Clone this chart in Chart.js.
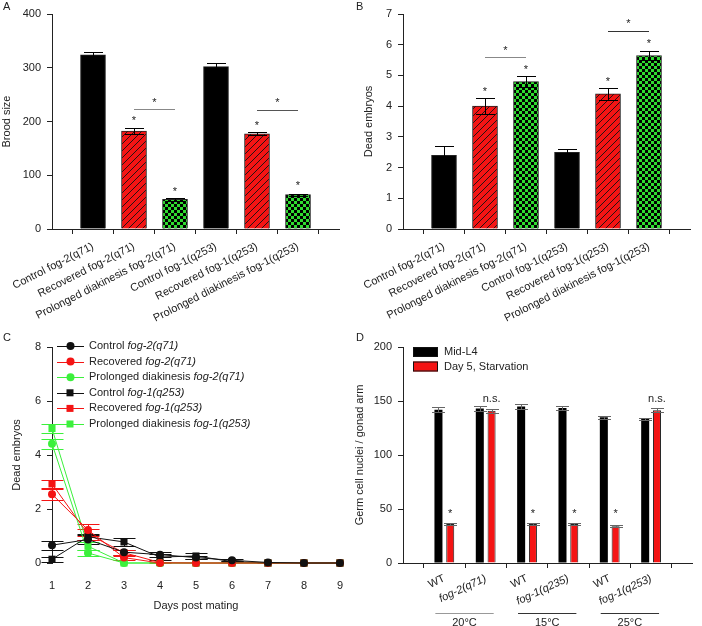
<!DOCTYPE html>
<html>
<head>
<meta charset="utf-8">
<script src="https://cdn.jsdelivr.net/npm/chart.js@4/dist/chart.umd.min.js"></script>
<style>
  body { margin: 0; background: #fff; width: 702px; height: 626px; position: relative; overflow: hidden; font-family: Arial, "Liberation Sans", sans-serif; }
  canvas { position: absolute; }
  .tag { position: absolute; font-size: 11px; color: #222; }
</style>
</head>
<body>
<canvas id="chartA" width="351" height="330" style="left:0;top:0"></canvas>
<canvas id="chartB" width="351" height="330" style="left:351px;top:0"></canvas>
<canvas id="chartC" width="351" height="296" style="left:0;top:330px"></canvas>
<canvas id="chartD" width="351" height="296" style="left:351px;top:330px"></canvas>
<div class="tag" style="left:3px;top:0">A</div>
<div class="tag" style="left:356px;top:0">B</div>
<div class="tag" style="left:3px;top:331px">C</div>
<div class="tag" style="left:356px;top:331px">D</div>
<script>
// ---- data ----
var strainLabels = ['Control fog-2(q71)', 'Recovered fog-2(q71)', 'Prolonged diakinesis fog-2(q71)',
                    'Control fog-1(q253)', 'Recovered fog-1(q253)', 'Prolonged diakinesis fog-1(q253)'];
var broodSize = [324, 182, 55, 302, 177, 64];
var broodErr  = [6, 5, 2, 6, 3, 2];
var deadEmbryos = [2.4, 4.0, 4.8, 2.5, 4.4, 5.65];
var deadErr     = [0.3, 0.25, 0.18, 0.1, 0.2, 0.14];

var days = [1, 2, 3, 4, 5, 6, 7, 8, 9];
var ctrlFog2 = [0.66, 0.87, 0.40, 0.31, 0.20, 0.10, 0.02, 0, 0];
var recFog2  = [2.55, 1.22, 0.20, 0, 0, 0, 0, 0, 0];
var proFog2  = [4.42, 0.37, 0, 0, 0, 0, 0, 0, 0];
var ctrlFog1 = [0.14, 0.97, 0.78, 0.22, 0.26, 0.05, 0, 0, 0];
var recFog1  = [2.93, 1.07, 0.38, 0.02, 0, 0, 0, 0, 0];
var proFog1  = [4.98, 0.62, 0, 0, 0, 0, 0, 0, 0];
var ctrlFog2Err = [0.16, 0.15, 0.10, 0.08, 0.06, 0.03, 0.02, 0, 0];
var recFog2Err  = [0.20, 0.22, 0.10, 0, 0, 0, 0, 0, 0];
var proFog2Err  = [0.18, 0.12, 0, 0, 0, 0, 0, 0, 0];
var ctrlFog1Err = [0.10, 0.12, 0.15, 0.10, 0.12, 0.03, 0, 0, 0];
var recFog1Err  = [0.15, 0.20, 0.12, 0.02, 0, 0, 0, 0, 0];
var proFog1Err  = [0.15, 0.15, 0, 0, 0, 0, 0, 0, 0];

var germLabels = ['WT', 'fog-2(q71)', 'WT', 'fog-1(q235)', 'WT', 'fog-1(q253)'];
var midL4       = [142, 143, 145, 143.5, 135, 133.5];
var midL4Err    = [2, 2, 2.5, 2, 1.5, 1];
var starved     = [36, 141, 36, 36, 34, 141.5];
var starvedErr  = [0.8, 1.8, 0.8, 0.8, 0.8, 1.8];
var tempGroups  = [['20°C', 0, 1], ['15°C', 2, 3], ['25°C', 4, 5]];

var FONT = 'Arial, "Liberation Sans", sans-serif';
Chart.defaults.font.family = FONT;
Chart.defaults.font.size = 11;
Chart.defaults.color = '#222';

var RED = '#f41414', GREEN = '#2fdc2f', LGREEN = '#3cf03c';

// pad with an empty slot each side so the categories sit like the original axis
function pad(a) { return [null].concat(a, [null]); }

function hatch() {
  var c = document.createElement('canvas');
  c.width = c.height = 7;
  var g = c.getContext('2d');
  g.fillStyle = RED; g.fillRect(0, 0, 7, 7);
  g.strokeStyle = '#111'; g.lineWidth = 0.9;
  g.beginPath();
  g.moveTo(-1, 8); g.lineTo(8, -1);
  g.moveTo(-1, 1); g.lineTo(1, -1);
  g.moveTo(6, 8); g.lineTo(8, 6);
  g.stroke();
  return g.createPattern(c, 'repeat');
}
function checker() {
  var c = document.createElement('canvas');
  c.width = c.height = 6;
  var g = c.getContext('2d');
  g.fillStyle = GREEN; g.fillRect(0, 0, 6, 6);
  g.fillStyle = '#000'; g.fillRect(0, 0, 3, 3); g.fillRect(3, 3, 3, 3);
  return g.createPattern(c, 'repeat');
}
var barFills = pad(['#000', hatch(), checker(), '#000', hatch(), checker()]);

var errorBars = {
  id: 'errorBars',
  draw: function (chart, opts) {
    var ctx = chart.ctx;
    chart.data.datasets.forEach(function (ds, di) {
      if (!ds.errors) return;
      var meta = chart.getDatasetMeta(di);
      var ys = chart.scales[meta.yAxisID];
      ctx.save();
      ctx.strokeStyle = ds.errorColor || opts.color || '#000';
      ctx.lineWidth = 1;
      meta.data.forEach(function (el, i) {
        var v = ds.data[i], e = ds.errors[i];
        if (v == null || !e) return;
        if (typeof v === 'object') v = v.y;
        var x = Math.round(el.x) + 0.5;
        var top = Math.round(ys.getPixelForValue(v + e)) + 0.5;
        var bot = Math.round(ys.getPixelForValue(v - e)) + 0.5;
        var w = (ds.capWidth || opts.cap) / 2;
        ctx.beginPath();
        ctx.moveTo(x, top); ctx.lineTo(x, bot);
        ctx.moveTo(x - w, top); ctx.lineTo(x + w, top);
        ctx.moveTo(x - w, bot); ctx.lineTo(x + w, bot);
        ctx.stroke();
      });
      ctx.restore();
    });
  },
  beforeDatasetsDraw: function (chart, args, opts) { if (opts.under) this.draw(chart, opts); },
  afterDatasetsDraw: function (chart, args, opts) { if (!opts.under) this.draw(chart, opts); }
};

// significance bars, asterisks and n.s. labels
var marks = {
  id: 'marks',
  afterDatasetsDraw: function (chart, args, opts) {
    var ctx = chart.ctx, xs = chart.scales.x, ys = chart.scales.y;
    ctx.save();
    ctx.lineWidth = 1;
    (opts.lines || []).forEach(function (l) {
      var y = Math.round(ys.getPixelForValue(l.y)) + 0.5;
      ctx.strokeStyle = l.color || '#333';
      ctx.beginPath();
      ctx.moveTo(xs.getPixelForValue(l.from + 1), y);
      ctx.lineTo(xs.getPixelForValue(l.to + 1), y);
      ctx.stroke();
    });
    ctx.fillStyle = '#222';
    ctx.textAlign = 'center';
    ctx.textBaseline = 'middle';
    ctx.font = '11px ' + FONT;
    (opts.texts || []).forEach(function (t) {
      var x;
      if (t.ds != null) x = chart.getDatasetMeta(t.ds).data[t.i + 1].x;
      else x = xs.getPixelForValue(t.i + 1);
      var y = ys.getPixelForValue(t.y);
      ctx.fillText(t.text, x, y + (t.text === '*' ? 3 : 0));
    });
    ctx.restore();
  }
};

function axisY(min, max, step, title, titlePad) {
  return {
    min: min, max: max,
    ticks: { stepSize: step, padding: 6, font: { size: 11 } },
    grid: { display: true, drawOnChartArea: false, tickLength: 5, color: '#222' },
    border: { color: '#222' },
    title: { display: true, text: title, font: { size: 11 }, padding: { top: titlePad, bottom: 0 } },
    afterFit: function (s) { s.width = 52; }
  };
}

function barPanel(id, values, errs, yAxis, markOpts) {
  return new Chart(document.getElementById(id), {
    type: 'bar',
    data: {
      labels: pad(strainLabels).map(function (l) { return l || ''; }),
      datasets: [{
        data: pad(values),
        errors: pad(errs),
        backgroundColor: barFills,
        borderColor: '#222',
        borderWidth: 1,
        barThickness: 25
      }]
    },
    options: {
      responsive: false,
      animation: false,
      layout: { padding: { top: 14, right: 3, left: 0, bottom: 0 } },
      plugins: { legend: { display: false }, tooltip: { enabled: false }, errorBars: { cap: 19 }, marks: markOpts },
      scales: {
        x: {
          offset: false,
          ticks: { autoSkip: false, minRotation: 27, maxRotation: 27, padding: 6, font: { size: 11 } },
          grid: { display: true, drawOnChartArea: false, tickLength: 5, color: '#222' },
          border: { color: '#222' },
          afterFit: function (s) { s.height = 101; }
        },
        y: yAxis
      }
    },
    plugins: [errorBars, marks]
  });
}

barPanel('chartA', broodSize, broodErr, axisY(0, 400, 100, 'Brood size', 0), {
  lines: [{ from: 1, to: 2, y: 224, color: '#888' }, { from: 4, to: 5, y: 221, color: '#555' }],
  texts: [{ i: 1.5, y: 240, text: '*' }, { i: 4.5, y: 240, text: '*' },
          { i: 1, y: 206, text: '*' }, { i: 2, y: 74, text: '*' },
          { i: 4, y: 197, text: '*' }, { i: 5, y: 86, text: '*' }]
});

barPanel('chartB', deadEmbryos, deadErr, axisY(0, 7, 1, 'Dead embryos', 11), {
  lines: [{ from: 1, to: 2, y: 5.61, color: '#888' }, { from: 4, to: 5, y: 6.45, color: '#333' }],
  texts: [{ i: 1.5, y: 5.9, text: '*' }, { i: 4.5, y: 6.77, text: '*' },
          { i: 1, y: 4.55, text: '*' }, { i: 2, y: 5.29, text: '*' },
          { i: 4, y: 4.89, text: '*' }, { i: 5, y: 6.13, text: '*' }]
});

// ---- panel C ----
function series(label, values, errs, color, style) {
  return {
    label: label,
    data: days.map(function (d, i) { return { x: d, y: values[i] }; }),
    errors: errs,
    errorColor: color,
    borderColor: color,
    backgroundColor: color,
    borderWidth: 1,
    pointStyle: style,
    pointRadius: style === 'rect' ? 5 : 4,
    pointBorderWidth: 0,
    tension: 0,
    clip: false
  };
}

var lineLegend = {
  id: 'lineLegend',
  afterDraw: function (chart) {
    var ctx = chart.ctx;
    ctx.save();
    chart.data.datasets.forEach(function (ds, i) {
      var y = 16 + i * 15.6;
      ctx.strokeStyle = ds.borderColor; ctx.lineWidth = 1;
      ctx.beginPath(); ctx.moveTo(57, Math.round(y) + 0.5); ctx.lineTo(84, Math.round(y) + 0.5); ctx.stroke();
      ctx.fillStyle = ds.backgroundColor;
      if (ds.pointStyle === 'rect') ctx.fillRect(66.5, y - 3.5, 7, 7);
      else { ctx.beginPath(); ctx.arc(70.5, y, 4, 0, Math.PI * 2); ctx.fill(); }
      var m = ds.label.match(/^(.*?)(fog-.*)$/);
      ctx.fillStyle = '#222'; ctx.textBaseline = 'middle'; ctx.textAlign = 'left';
      ctx.font = '11px ' + FONT;
      ctx.fillText(m[1], 89, y);
      var w = ctx.measureText(m[1]).width;
      ctx.font = 'italic 11px ' + FONT;
      ctx.fillText(m[2], 89 + w, y);
    });
    ctx.restore();
  }
};

new Chart(document.getElementById('chartC'), {
  type: 'line',
  data: {
    datasets: [
      series('Control fog-2(q71)', ctrlFog2, ctrlFog2Err, '#111', 'circle'),
      series('Recovered fog-2(q71)', recFog2, recFog2Err, RED, 'circle'),
      series('Prolonged diakinesis fog-2(q71)', proFog2, proFog2Err, LGREEN, 'circle'),
      series('Control fog-1(q253)', ctrlFog1, ctrlFog1Err, '#111', 'rect'),
      series('Recovered fog-1(q253)', recFog1, recFog1Err, RED, 'rect'),
      series('Prolonged diakinesis fog-1(q253)', proFog1, proFog1Err, LGREEN, 'rect')
    ]
  },
  options: {
    responsive: false,
    animation: false,
    layout: { padding: { top: 17, right: 4, left: 0, bottom: 0 } },
    plugins: { legend: { display: false }, tooltip: { enabled: false }, errorBars: { cap: 22, under: true } },
    scales: {
      x: {
        type: 'linear', min: 1, max: 9,
        ticks: { stepSize: 1, padding: 8, font: { size: 11 } },
        grid: { display: false },
        border: { display: false },
        title: { display: true, text: 'Days post mating', font: { size: 11 }, padding: { top: 0, bottom: 13 } },
        afterFit: function (s) { s.height = 63; }
      },
      y: axisY(0, 8, 2, 'Dead embryos', 10)
    }
  },
  plugins: [errorBars, lineLegend]
});

// ---- panel D ----
var boxLegend = {
  id: 'boxLegend',
  afterDraw: function (chart) {
    var ctx = chart.ctx;
    ctx.save();
    chart.data.datasets.forEach(function (ds, i) {
      var y = 17 + i * 14.5;
      ctx.fillStyle = ds.backgroundColor;
      ctx.fillRect(62, y, 25, 10);
      ctx.strokeStyle = '#111'; ctx.lineWidth = 1;
      ctx.strokeRect(62.5, y + 0.5, 24, 9);
      ctx.fillStyle = '#222'; ctx.font = '11px ' + FONT;
      ctx.textBaseline = 'middle'; ctx.textAlign = 'left';
      ctx.fillText(ds.label, 93, y + 5);
    });
    ctx.restore();
  }
};

var tempAxis = {
  id: 'tempAxis',
  afterDraw: function (chart) {
    var ctx = chart.ctx, xs = chart.scales.x;
    ctx.save();
    ctx.lineWidth = 1;
    ctx.font = '11px ' + FONT; ctx.fillStyle = '#222';
    ctx.textAlign = 'center'; ctx.textBaseline = 'middle';
    tempGroups.forEach(function (g, k) {
      var a = xs.getPixelForValue(g[1] + 1) - 9, b = xs.getPixelForValue(g[2] + 1) + 8;
      ctx.strokeStyle = k === 0 ? '#999' : '#333';
      ctx.beginPath(); ctx.moveTo(a, 283.5); ctx.lineTo(b, 283.5); ctx.stroke();
      ctx.fillText(g[0], (a + b) / 2, 293);
    });
    ctx.restore();
  }
};

new Chart(document.getElementById('chartD'), {
  type: 'bar',
  data: {
    labels: pad(germLabels).map(function (l) { return l || ''; }),
    datasets: [
      { label: 'Mid-L4', data: pad(midL4), errors: pad(midL4Err), backgroundColor: '#000', borderColor: '#000', borderWidth: 0 },
      { label: 'Day 5, Starvation', data: pad(starved), errors: pad(starvedErr), backgroundColor: RED, borderColor: '#222', borderWidth: 1 }
    ]
  },
  options: {
    responsive: false,
    animation: false,
    categoryPercentage: 0.57,
    barPercentage: 0.68,
    layout: { padding: { top: 17, right: 3, left: 0, bottom: 0 } },
    plugins: {
      legend: { display: false }, tooltip: { enabled: false },
      errorBars: { cap: 13, color: '#666' },
      marks: {
        texts: [{ i: 0, ds: 1, y: 48, text: '*' }, { i: 2, ds: 1, y: 48, text: '*' },
                { i: 3, ds: 1, y: 48, text: '*' }, { i: 4, ds: 1, y: 48, text: '*' },
                { i: 1, ds: 1, y: 152, text: 'n.s.' }, { i: 5, ds: 1, y: 152, text: 'n.s.' }]
      }
    },
    scales: {
      x: {
        offset: false,
        ticks: {
          autoSkip: false, minRotation: 25, maxRotation: 25, padding: 4,
          font: function (c) { return { size: 11, style: c.tick && /fog/.test(c.tick.label) ? 'italic' : 'normal' }; }
        },
        grid: { display: true, drawOnChartArea: false, tickLength: 5, color: '#222' },
        border: { color: '#222' },
        afterFit: function (s) { s.height = 63; }
      },
      y: axisY(0, 200, 50, 'Germ cell nuclei / gonad arm', 2)
    }
  },
  plugins: [errorBars, marks, boxLegend, tempAxis]
});
</script>
</body>
</html>
